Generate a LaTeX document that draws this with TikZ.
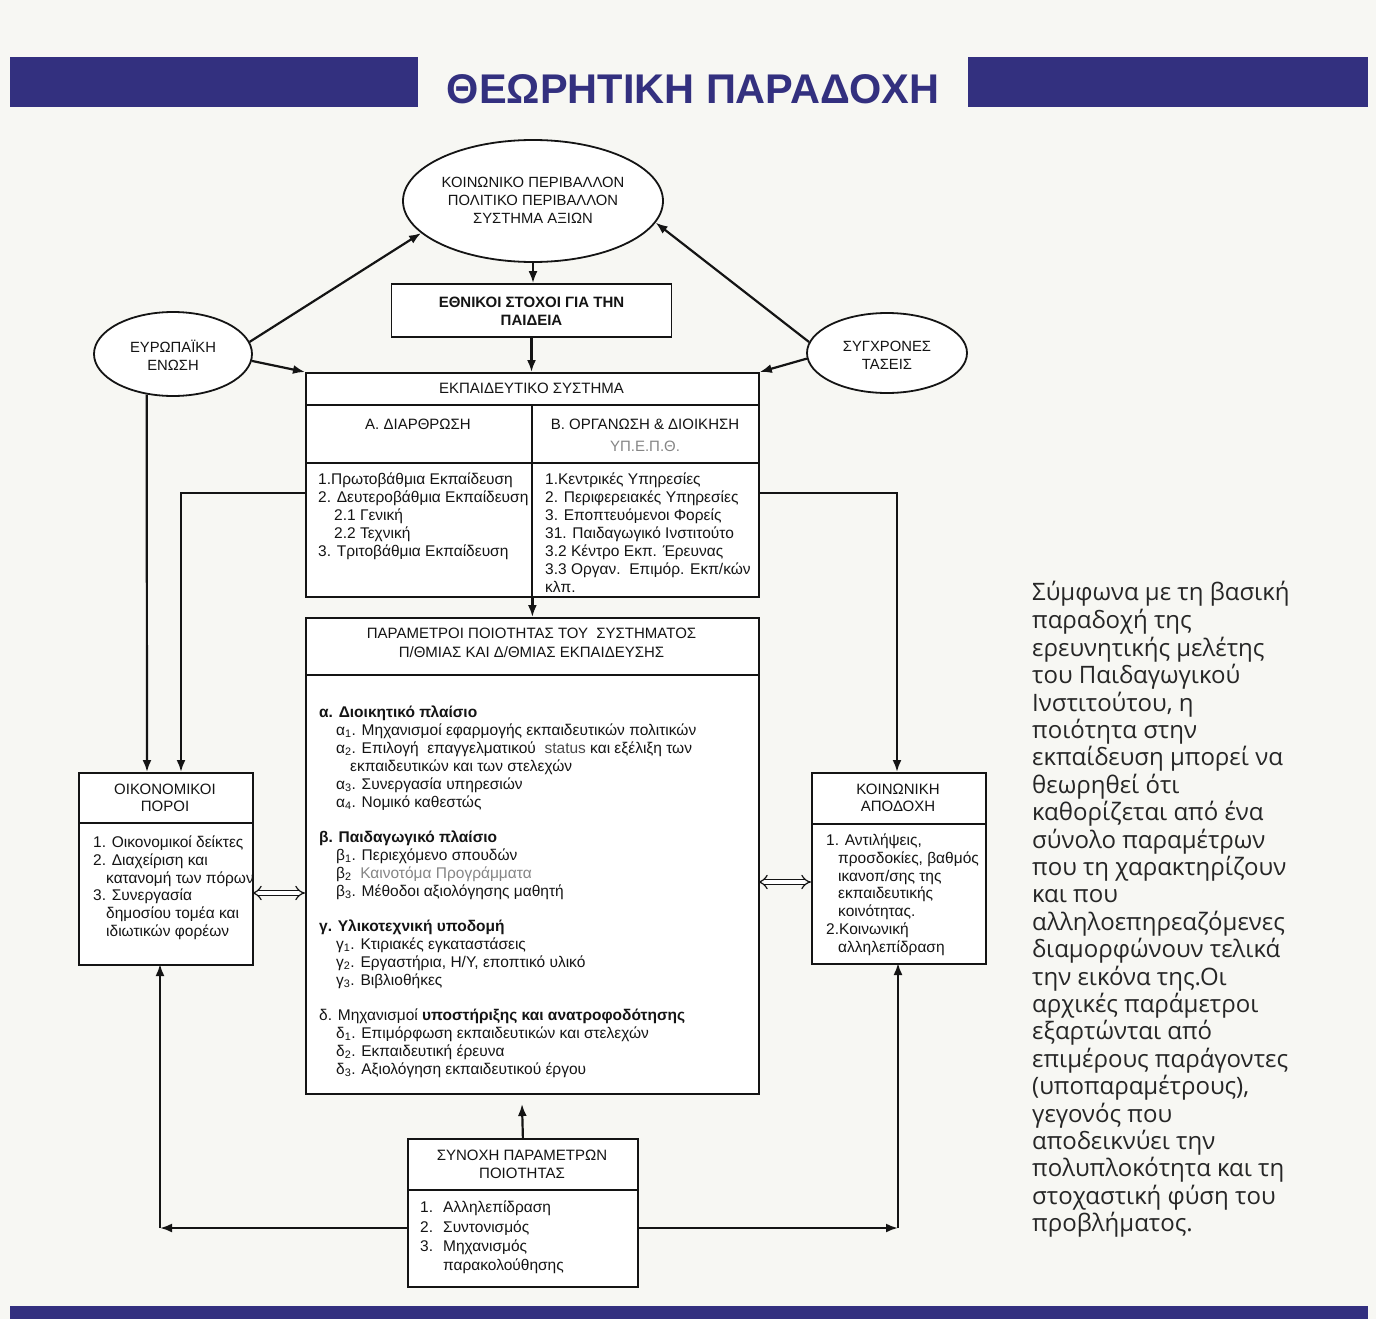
\documentclass[tikz,border=0pt]{standalone}
\usepackage{fontspec}
\setmainfont{Liberation Sans}
\newfontfamily\titlefont{Liberation Sans}
\newfontfamily\parafont{Open Sans}
\usetikzlibrary{arrows.meta,shapes.geometric}
\definecolor{bgc}{HTML}{F7F7F3}
\definecolor{navy}{HTML}{33307F}
\definecolor{ink}{HTML}{141414}
\definecolor{greytxt}{HTML}{858585}
\definecolor{stattxt}{HTML}{4A4A4A}
\definecolor{paratxt}{HTML}{262626}
\newcommand\fsbox{\fontsize{15}{18}\selectfont}
\newcommand\fslist{\fontsize{15.5}{18}\selectfont}
\newcommand\fsoval{\fontsize{14.8}{18}\selectfont}
\newcommand\fsside{\fontsize{15.5}{17.8}\selectfont}
\newcommand\fssyn{\fontsize{15.5}{19.3}\selectfont}
\newcommand\fspara{\fontsize{24}{27.4}\selectfont}
\begin{document}
\begin{tikzpicture}[x=1pt,y=-1pt,
  box/.style={draw=ink, line width=1.8pt, fill=white, inner sep=0pt, anchor=north west},
  oval/.style={ellipse, draw=ink, line width=1.8pt, fill=white, inner sep=0pt},
  arr/.style={draw=ink, line width=2.2pt, -{Latex[length=12pt,width=9pt]}},
  dbl/.style={draw=ink, line width=1.2pt, double=white, double distance=3.8pt, {Implies}-{Implies}},
  rule/.style={draw=ink, line width=1.8pt},
  lbl/.style={inner sep=0pt, align=center, text=ink},
  lst/.style={inner sep=0pt, align=left, anchor=north west, text=ink},
]
\useasboundingbox (0,0) rectangle (1376,1319);
\fill[bgc] (0,0) rectangle (1376,1319);

% title bars
\fill[navy] (10,57) rectangle (418,107);
\fill[navy] (968,57) rectangle (1368,107);
\fill[navy] (10,1306) rectangle (1368,1319);
\node[lbl, text=navy, anchor=base, font=\titlefont\bfseries\fontsize{41.5}{46}\selectfont] (title) at (693,104) {ΘΕΩΡΗΤΙΚΗ ΠΑΡΑΔΟΧΗ};

% ellipses
\node[oval, minimum width=260pt, minimum height=122pt] (env) at (533,201) {};
\node[lbl, font=\fsoval] (envt) at (533,200) {ΚΟΙΝΩΝΙΚΟ ΠΕΡΙΒΑΛΛΟΝ\\ΠΟΛΙΤΙΚΟ ΠΕΡΙΒΑΛΛΟΝ\\ΣΥΣΤΗΜΑ ΑΞΙΩΝ};
\node[oval, minimum width=158pt, minimum height=84pt] (eu) at (173,354) {};
\node[lbl, font=\fsoval] (eut) at (173,355) {ΕΥΡΩΠΑΪΚΗ\\ΕΝΩΣΗ};
\node[oval, minimum width=160pt, minimum height=80pt] (ts) at (887,353) {};
\node[lbl, font=\fsoval] (tst) at (887,355) {ΣΥΓΧΡΟΝΕΣ\\ΤΑΣΕΙΣ};

% national goals
\node[box, anchor=center, minimum width=280pt, minimum height=53pt] (eth) at (531.5,310.5) {};
\node[lbl, font=\fsbox\bfseries] (etht) at (531.5,311) {ΕΘΝΙΚΟΙ ΣΤΟΧΟΙ ΓΙΑ ΤΗΝ\\ΠΑΙΔΕΙΑ};

% educational system
\node[box, minimum width=453pt, minimum height=224pt] (edu) at (305,372) {};
\draw[rule] (edu.north west) ++(0,33) -- ++(453,0);
\draw[rule] (edu.north west) ++(0,91) -- ++(453,0);
\draw[rule] (edu.north west) ++(227,33) -- ++(0,191);
\node[lbl, font=\fsbox] (edut) at (531.5,388.5) {ΕΚΠΑΙΔΕΥΤΙΚΟ ΣΥΣΤΗΜΑ};
\node[lbl, font=\fsbox] (edua) at (418,424) {Α. ΔΙΑΡΘΡΩΣΗ};
\node[lbl, font=\fsbox] (edub) at (645,424) {Β. ΟΡΓΑΝΩΣΗ \& ΔΙΟΙΚΗΣΗ};
\node[lbl, font=\fsbox, text=greytxt] (edub2) at (645,446) {ΥΠ.Ε.Π.Θ.};
\node[lst, font=\fslist] (edual) at (318,472) {\strut 1.Πρωτοβάθμια Εκπαίδευση\\
2. Δευτεροβάθμια Εκπαίδευση\\
\hspace*{16pt}2.1 Γενική\\
\hspace*{16pt}2.2 Τεχνική\\
3. Τριτοβάθμια Εκπαίδευση};
\node[lst, font=\fslist] (edubl) at (545,472) {\strut 1.Κεντρικές Υπηρεσίες\\
2. Περιφερειακές Υπηρεσίες\\
3. Εποπτευόμενοι Φορείς\\
31. Παιδαγωγικό Ινστιτούτο\\
3.2 Κέντρο Εκπ. Έρευνας\\
3.3 Οργαν.\ \ Επιμόρ. Εκπ/κών\\
κλπ.};

% parameters
\node[box, minimum width=453pt, minimum height=476pt] (par) at (305,617) {};
\draw[rule] (par.north west) ++(0,58) -- ++(453,0);
\node[lbl, font=\fontsize{15}{19}\selectfont] (part) at (531.5,642.5) {ΠΑΡΑΜΕΤΡΟΙ ΠΟΙΟΤΗΤΑΣ ΤΟΥ\ \ ΣΥΣΤΗΜΑΤΟΣ\\Π/ΘΜΙΑΣ ΚΑΙ Δ/ΘΜΙΑΣ ΕΚΠΑΙΔΕΥΣΗΣ};
\node[lst, font=\fslist] (parl) at (319,704.5) {\strut\textbf{α. Διοικητικό πλαίσιο}\\
\hspace*{17pt}α\textsubscript{1}. Μηχανισμοί εφαρμογής εκπαιδευτικών πολιτικών\\
\hspace*{17pt}α\textsubscript{2}. Επιλογή\ \ επαγγελματικού\ \ {\color{stattxt}status} και εξέλιξη των\\
\hspace*{31pt}εκπαιδευτικών και των στελεχών\\
\hspace*{17pt}α\textsubscript{3}. Συνεργασία υπηρεσιών\\
\hspace*{17pt}α\textsubscript{4}. Νομικό καθεστώς\\[17pt]
\textbf{β. Παιδαγωγικό πλαίσιο}\\
\hspace*{17pt}β\textsubscript{1}. Περιεχόμενο σπουδών\\
\hspace*{17pt}β\textsubscript{2}\ \ {\color{greytxt}Καινοτόμα Προγράμματα}\\
\hspace*{17pt}β\textsubscript{3}. Μέθοδοι αξιολόγησης μαθητή\\[17pt]
\textbf{γ. Υλικοτεχνική υποδομή}\\
\hspace*{17pt}γ\textsubscript{1}. Κτιριακές εγκαταστάσεις\\
\hspace*{17pt}γ\textsubscript{2}. Εργαστήρια, Η/Υ, εποπτικό υλικό\\
\hspace*{17pt}γ\textsubscript{3}. Βιβλιοθήκες\\[17pt]
δ. Μηχανισμοί \textbf{υποστήριξης και ανατροφοδότησης}\\
\hspace*{17pt}δ\textsubscript{1}. Επιμόρφωση εκπαιδευτικών και στελεχών\\
\hspace*{17pt}δ\textsubscript{2}. Εκπαιδευτική έρευνα\\
\hspace*{17pt}δ\textsubscript{3}. Αξιολόγηση εκπαιδευτικού έργου};

% financial resources
\node[box, minimum width=174pt, minimum height=192pt] (oik) at (78,772) {};
\draw[rule] (oik.north west) ++(0,51) -- ++(174,0);
\node[lbl, font=\fontsize{15}{17}\selectfont] (oikt) at (165,797.5) {ΟΙΚΟΝΟΜΙΚΟΙ\\ΠΟΡΟΙ};
\node[lst, font=\fsside] (oikl) at (93,834.8) {\strut 1. Οικονομικοί δείκτες\\
2. Διαχείριση και\\
\hspace*{13pt}κατανομή των πόρων\\
3. Συνεργασία\\
\hspace*{13pt}δημοσίου τομέα και\\
\hspace*{13pt}ιδιωτικών φορέων};

% social acceptance
\node[box, minimum width=174pt, minimum height=191pt] (ka) at (811,772) {};
\draw[rule] (ka.north west) ++(0,52) -- ++(174,0);
\node[lbl, font=\fontsize{15}{17}\selectfont] (kat) at (898,797.5) {ΚΟΙΝΩΝΙΚΗ\\ΑΠΟΔΟΧΗ};
\node[lst, font=\fsside] (kal) at (826,832.8) {\strut 1. Αντιλήψεις,\\
\hspace*{12pt}προσδοκίες, βαθμός\\
\hspace*{12pt}ικανοπ/σης της\\
\hspace*{12pt}εκπαιδευτικής\\
\hspace*{12pt}κοινότητας.\\
2.Κοινωνική\\
\hspace*{12pt}αλληλεπίδραση};

% coherence
\node[box, minimum width=230pt, minimum height=148pt] (syn) at (407,1138) {};
\draw[rule] (syn.north west) ++(0,52) -- ++(230,0);
\node[lbl, font=\fontsize{15}{18}\selectfont] (synt) at (522,1164) {ΣΥΝΟΧΗ ΠΑΡΑΜΕΤΡΩΝ\\ΠΟΙΟΤΗΤΑΣ};
\node[lst, font=\fssyn] (synl) at (420,1199) {\strut\makebox[23pt][l]{1.}Αλληλεπίδραση\\
\makebox[23pt][l]{2.}Συντονισμός\\
\makebox[23pt][l]{3.}Μηχανισμός\\
\hspace*{23pt}παρακολούθησης};

% right paragraph
\node[lst, font=\parafont\fspara, text=paratxt] (para) at (1032,580.8) {\strut Σύμφωνα με τη βασική\\
παραδοχή της\\
ερευνητικής μελέτης\\
του Παιδαγωγικού\\
Ινστιτούτου, η\\
ποιότητα στην\\
εκπαίδευση μπορεί να\\
θεωρηθεί ότι\\
καθορίζεται από ένα\\
σύνολο παραμέτρων\\
που τη χαρακτηρίζουν\\
και που\\
αλληλοεπηρεαζόμενες\\
διαμορφώνουν τελικά\\
την εικόνα της.Οι\\
αρχικές παράμετροι\\
εξαρτώνται από\\
επιμέρους παράγοντες\\
(υποπαραμέτρους),\\
γεγονός που\\
αποδεικνύει την\\
πολυπλοκότητα και τη\\
στοχαστική φύση του\\
προβλήματος.};

% connector end points
\coordinate (eduL) at (305,493);
\coordinate (eduR) at (758,493);
\coordinate (oikT1) at (147,772);
\coordinate (oikT2) at (181,772);
\coordinate (kaT) at (897,772);
\coordinate (parB) at (522,1104);
\coordinate (synL) at (407,1228);
\coordinate (synR) at (637,1228);
\coordinate (cornL) at (160,1228);
\coordinate (cornR) at (898,1228);
\coordinate (oikB) at (160,964);
\coordinate (kaB) at (898,963);
\coordinate (oikE) at (252,893);
\coordinate (parW) at (305,893);
\coordinate (parE) at (758,882);
\coordinate (kaW) at (811,882);

% connectors
\draw[arr] (env.south) -- (env.south |- eth.north);
\draw[arr] (eth.south) -- (eth.south |- edu.north);
\draw[arr] (eu.9) -- (env.196);
\draw[arr] (ts.172) -- (env.-10);
\draw[arr] (eu.-5) -- (edu.north west);
\draw[arr] (ts.184) -- (edu.north east);
\draw[arr] (eu.-123) -- (oikT1);
\draw[arr] (eduL) -| (oikT2);
\draw[arr] (eduR) -| (kaT);
\draw[arr] (edu.south) -- (par.north);
\draw[arr] (syn.north) -- (parB);
\draw[arr] (synL) -- (cornL);
\draw[arr] (cornL) -- (oikB);
\draw[arr] (synR) -- (cornR);
\draw[arr] (cornR) -- (kaB);
\draw[dbl] (oikE) -- (parW);
\draw[dbl] (parE) -- (kaW);
\end{tikzpicture}
\end{document}
